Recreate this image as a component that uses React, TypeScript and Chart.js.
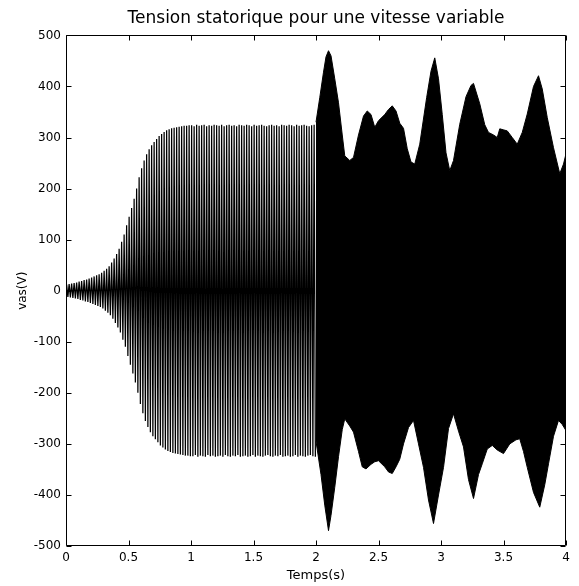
import { useEffect, useRef } from 'react';
import { Chart, registerables } from 'chart.js';

Chart.register(...registerables);

const chartTitle = 'Tension statorique pour une vitesse variable';
const xAxisLabel = 'Temps(s)';
const yAxisLabel = 'vas(V)';

const xTickValues = [0, 0.5, 1, 1.5, 2, 2.5, 3, 3.5, 4];
const xTickLabels = ['0', '0.5', '1', '1.5', '2', '2.5', '3', '3.5', '4'];
const yTickValues = [-500, -400, -300, -200, -100, 0, 100, 200, 300, 400, 500];
const yTickLabels = ['-500', '-400', '-300', '-200', '-100', '0', '100', '200', '300', '400', '500'];

// 0 - 2 s : one amplitude (V) per 20 ms cycle
const CYCLE_S = 0.02;
const phase1Amplitude = [
  12, 13, 14, 15, 16, 18, 19, 21, 22, 24,
  26, 28, 30, 32, 35, 39, 43, 48, 55, 63,
  72, 82, 96, 110, 128, 145, 162, 180, 200, 222,
  240, 255, 267, 277, 285, 291, 297, 303, 307, 311,
  314, 316, 318, 319, 320, 321, 322, 323, 323, 324,
  324, 322, 325, 323, 324, 325, 322, 324, 323, 325,
  324, 323, 325, 322, 324, 325, 323, 324, 322, 325,
  324, 323, 325, 324, 322, 325, 323, 324, 325, 323,
  322, 324, 325, 323, 324, 322, 325, 324, 323, 325,
  324, 322, 325, 323, 324, 325, 323, 322, 324, 325,
];

// 2 - 4 s : envelope of the dense signal
const phase2UpperTimes = [
  2.0, 2.03, 2.06, 2.08, 2.1, 2.12, 2.15, 2.18, 2.21, 2.23, 2.27, 2.3, 2.34, 2.38, 2.41, 2.44, 2.47, 2.5,
  2.55, 2.58, 2.61, 2.64, 2.67, 2.7, 2.73, 2.76, 2.79, 2.83, 2.885, 2.92, 2.95, 2.98, 3.01, 3.04, 3.07,
  3.1, 3.15, 3.2, 3.24, 3.26, 3.31, 3.35, 3.38, 3.42, 3.45, 3.47, 3.5, 3.53, 3.57, 3.61, 3.65, 3.69,
  3.74, 3.78, 3.81, 3.85, 3.9, 3.95, 3.98, 4.0,
];
const phase2UpperVolts = [
  330, 378, 428, 458, 470, 460, 415, 368, 305, 264, 255, 261, 305, 342, 352, 345, 320, 333,
  345, 355, 362, 352, 328, 318, 278, 252, 248, 287, 378, 430, 456, 415, 345, 270, 235,
  255, 326, 380, 402, 406, 366, 325, 310, 305, 300, 317, 315, 313, 300, 287, 310, 346,
  400, 421, 395, 339, 280, 229, 248, 268,
];
const phase2LowerTimes = [
  2.0, 2.04, 2.07, 2.1, 2.12, 2.15, 2.18, 2.21, 2.23, 2.27, 2.3, 2.34, 2.37, 2.4, 2.44, 2.47, 2.5,
  2.55, 2.58, 2.61, 2.64, 2.67, 2.7, 2.74, 2.78, 2.82, 2.86, 2.9, 2.94, 2.98, 3.02, 3.06, 3.1,
  3.14, 3.18, 3.22, 3.26, 3.3, 3.33, 3.37, 3.41, 3.45, 3.5, 3.55, 3.6, 3.63, 3.66, 3.69, 3.74,
  3.79, 3.83, 3.86, 3.9, 3.94, 3.97, 4.0,
];
const phase2LowerVolts = [
  -295, -360, -420, -470, -440, -385, -325, -272, -251, -265, -277, -315, -345, -349, -340, -335, -333,
  -345, -355, -358, -345, -330, -300, -268, -254, -300, -346, -410, -456, -400, -346, -270, -241,
  -275, -306, -370, -407, -360, -339, -310, -303, -312, -319, -300, -292, -290, -315, -346, -395,
  -424, -380, -339, -285, -254, -262, -274,
];

const FONT = "'DejaVu Sans', sans-serif";

const framePlugin = {
  id: 'matlabFrame',
  afterDatasetsDraw(chart: any) {
    const { ctx, chartArea, scales } = chart;
    const left = Math.round(chartArea.left) + 0.5;
    const right = Math.round(chartArea.right) - 0.5;
    const top = Math.round(chartArea.top) + 0.5;
    const bottom = Math.round(chartArea.bottom) - 0.5;
    const T = 5;
    ctx.save();
    ctx.strokeStyle = '#000';
    ctx.lineWidth = 1;
    ctx.beginPath();
    ctx.rect(left, top, right - left, bottom - top);
    xTickValues.forEach((v) => {
      const px = Math.round(scales.x.getPixelForValue(v)) + 0.5;
      ctx.moveTo(px, bottom);
      ctx.lineTo(px, bottom - T);
      ctx.moveTo(px, top);
      ctx.lineTo(px, top + T);
    });
    yTickValues.forEach((v) => {
      const py = Math.round(scales.y.getPixelForValue(v)) + 0.5;
      ctx.moveTo(left, py);
      ctx.lineTo(left + T, py);
      ctx.moveTo(right, py);
      ctx.lineTo(right - T, py);
    });
    ctx.stroke();
    ctx.restore();
  },
};

export default function App() {
  const ref = useRef<HTMLCanvasElement>(null);

  useEffect(() => {
    const phase1Data: { x: number; y: number }[] = [{ x: 0, y: 0 }];
    phase1Amplitude.forEach((a, k) => {
      const t0 = k * CYCLE_S;
      phase1Data.push({ x: t0 + CYCLE_S / 4, y: a });
      phase1Data.push({ x: t0 + (3 * CYCLE_S) / 4, y: -a });
    });
    const upper = phase2UpperTimes.map((t, i) => ({ x: t, y: phase2UpperVolts[i] }));
    const lower = phase2LowerTimes.map((t, i) => ({ x: t, y: phase2LowerVolts[i] }));

    const chart = new Chart(ref.current as HTMLCanvasElement, {
      type: 'line',
      data: {
        datasets: [
          {
            label: 'vas 0-2 s',
            data: phase1Data,
            borderColor: '#000',
            borderWidth: 1.25,
            pointRadius: 0,
            tension: 0,
            fill: false,
          },
          {
            label: 'vas 2-4 s (enveloppe haute)',
            data: upper,
            borderColor: '#000',
            backgroundColor: '#000',
            borderWidth: 1,
            pointRadius: 0,
            tension: 0,
            fill: '+1',
          },
          {
            label: 'vas 2-4 s (enveloppe basse)',
            data: lower,
            borderColor: '#000',
            borderWidth: 1,
            pointRadius: 0,
            tension: 0,
            fill: false,
          },
        ],
      },
      options: {
        animation: false,
        responsive: false,
        devicePixelRatio: 1,
        events: [],
        layout: { padding: { left: 0, right: 13, top: 0, bottom: 0 } },
        plugins: {
          legend: { display: false },
          tooltip: { enabled: false },
          title: {
            display: true,
            text: chartTitle,
            fullSize: false,
            color: '#000',
            font: { family: FONT, size: 17, weight: 'normal' },
            padding: { top: 8, bottom: 7 },
          },
        },
        scales: {
          x: {
            type: 'linear',
            min: 0,
            max: 4,
            grid: { display: false, drawTicks: false },
            border: { display: false },
            afterBuildTicks: (s: any) => {
              s.ticks = xTickValues.map((v) => ({ value: v }));
            },
            afterFit: (s: any) => {
              s.height = 40;
            },
            ticks: {
              color: '#000',
              font: { family: FONT, size: 12 },
              padding: 5,
              maxRotation: 0,
              autoSkip: false,
              callback: (_v: any, i: number) => xTickLabels[i],
            },
            title: {
              display: true,
              text: xAxisLabel,
              color: '#000',
              font: { family: FONT, size: 13 },
              padding: { top: 0, bottom: 3 },
            },
          },
          y: {
            type: 'linear',
            min: -500,
            max: 500,
            grid: { display: false, drawTicks: false },
            border: { display: false },
            afterBuildTicks: (s: any) => {
              s.ticks = yTickValues.map((v) => ({ value: v }));
            },
            afterFit: (s: any) => {
              s.width = 66;
            },
            ticks: {
              color: '#000',
              font: { family: FONT, size: 12 },
              padding: 5,
              autoSkip: false,
              callback: (_v: any, i: number) => yTickLabels[i],
            },
            title: {
              display: true,
              text: yAxisLabel,
              color: '#000',
              font: { family: FONT, size: 12 },
              padding: { top: 16, bottom: 0 },
            },
          },
        },
      },
      plugins: [framePlugin],
    } as any);

    return () => chart.destroy();
  }, []);

  return (
    <div style={{ position: 'fixed', left: 0, top: 0, width: 579, height: 586, background: '#fff' }}>
      <canvas ref={ref} width={579} height={586} style={{ display: 'block', width: 579, height: 586 }} />
    </div>
  );
}
